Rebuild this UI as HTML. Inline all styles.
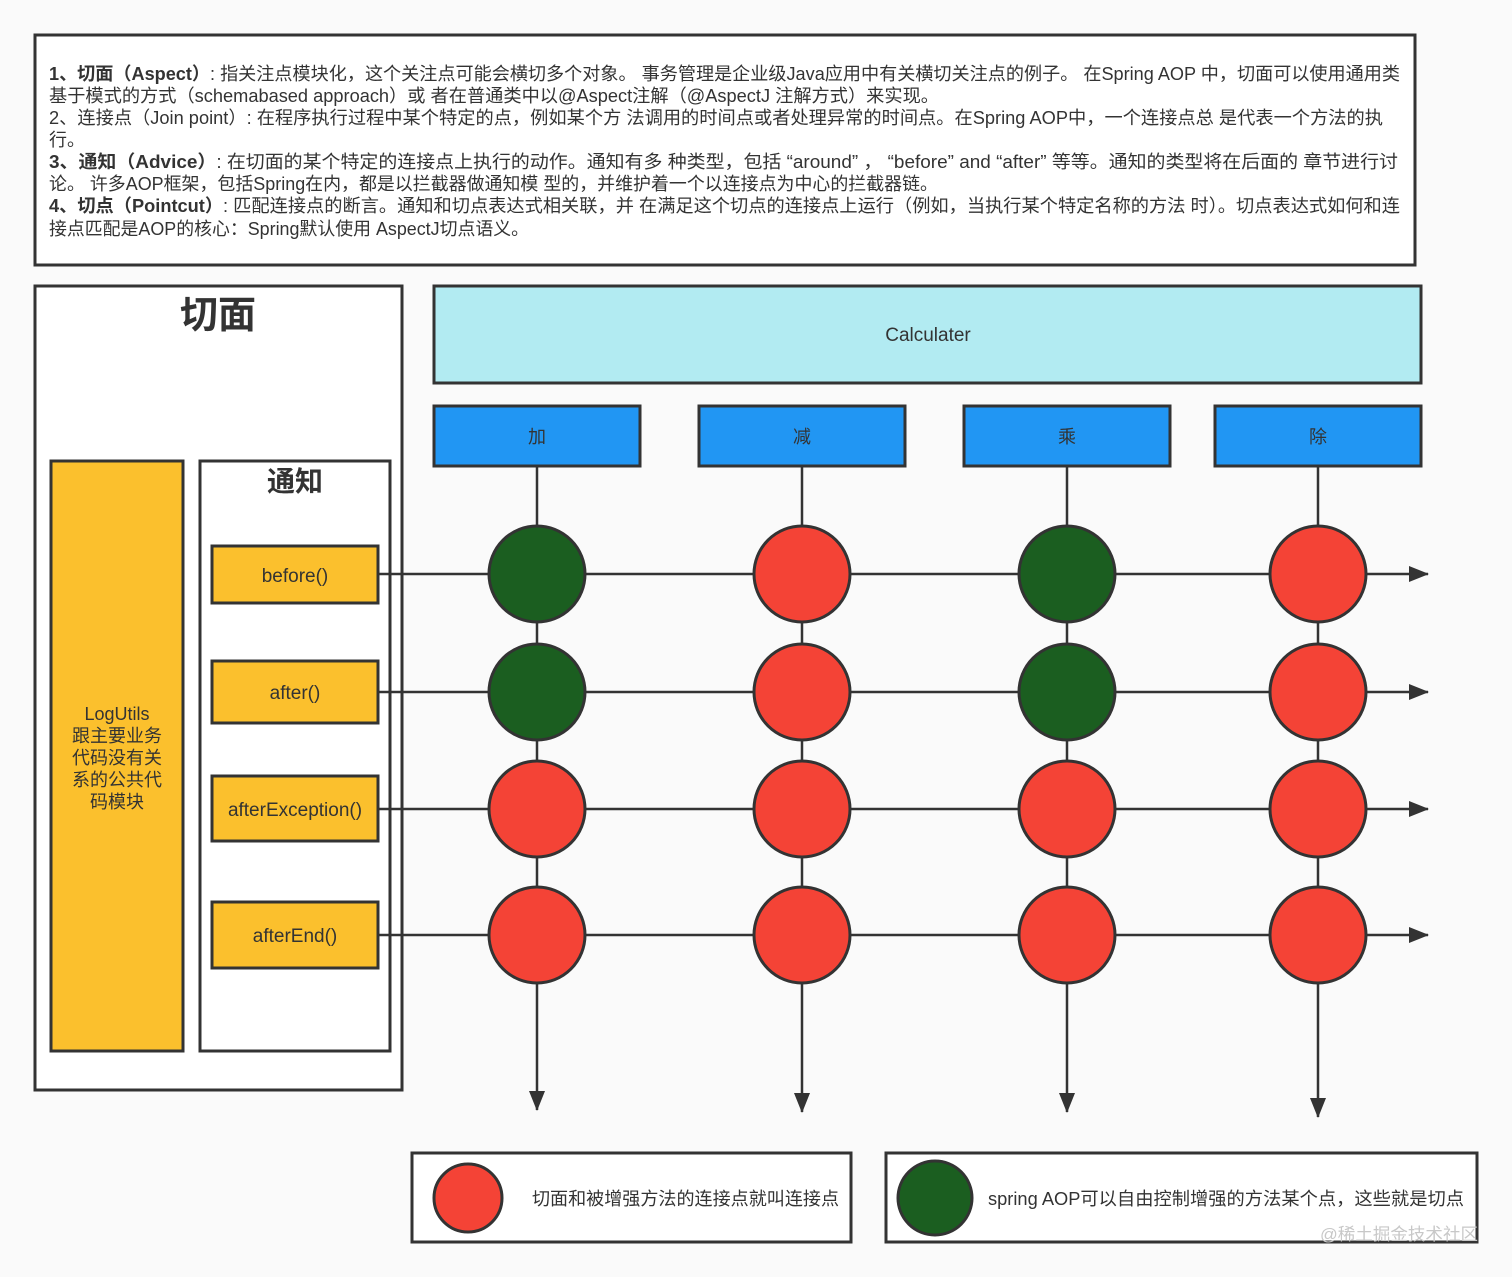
<!DOCTYPE html>
<html><head><meta charset="utf-8"><style>
html,body{margin:0;padding:0;background:#fafafa;}
svg{display:block;}
text{font-family:"Liberation Sans","Noto Sans CJK SC",sans-serif;fill:#333;}
</style></head><body>
<svg width="1512" height="1277" viewBox="0 0 1512 1277" xmlns="http://www.w3.org/2000/svg">
<defs>
<marker id="ar" markerWidth="20" markerHeight="16" refX="19" refY="8" orient="auto" markerUnits="userSpaceOnUse" viewBox="0 0 20 16">
<path d="M0,0 L20,8 L0,16 z" fill="#333"/></marker>
</defs>
<rect x="35" y="35" width="1380" height="230" fill="#fff" stroke="#333" stroke-width="3"/>
<g font-size="18">
<text x="49" y="80" textLength="1351" lengthAdjust="spacingAndGlyphs"><tspan font-weight="bold">1、切面（Aspect）</tspan>: 指关注点模块化，这个关注点可能会横切多个对象。 事务管理是企业级Java应用中有关横切关注点的例子。 在Spring AOP 中，切面可以使用通用类</text>
<text x="49" y="102" textLength="890" lengthAdjust="spacingAndGlyphs">基于模式的方式（schemabased approach）或 者在普通类中以@Aspect注解（@AspectJ 注解方式）来实现。</text>
<text x="49" y="124" textLength="1334" lengthAdjust="spacingAndGlyphs">2、连接点（Join point）: 在程序执行过程中某个特定的点，例如某个方 法调用的时间点或者处理异常的时间点。在Spring AOP中，一个连接点总 是代表一个方法的执</text>
<text x="49" y="146">行。</text>
<text x="49" y="168" textLength="1349" lengthAdjust="spacingAndGlyphs"><tspan font-weight="bold">3、通知（Advice）</tspan>: 在切面的某个特定的连接点上执行的动作。通知有多 种类型，包括 “around” ， “before”  and  “after” 等等。通知的类型将在后面的 章节进行讨</text>
<text x="49" y="190" textLength="889" lengthAdjust="spacingAndGlyphs">论。 许多AOP框架，包括Spring在内，都是以拦截器做通知模 型的，并维护着一个以连接点为中心的拦截器链。</text>
<text x="49" y="212" textLength="1351" lengthAdjust="spacingAndGlyphs"><tspan font-weight="bold">4、切点（Pointcut）</tspan>: 匹配连接点的断言。通知和切点表达式相关联，并 在满足这个切点的连接点上运行（例如，当执行某个特定名称的方法 时）。切点表达式如何和连</text>
<text x="49" y="235" textLength="480" lengthAdjust="spacingAndGlyphs">接点匹配是AOP的核心：Spring默认使用 AspectJ切点语义。</text>
</g>
<rect x="35" y="286" width="367" height="804" fill="#fff" stroke="#333" stroke-width="3"/>
<text x="218" y="328" font-size="38" font-weight="bold" text-anchor="middle">切面</text>
<rect x="51" y="461" width="132" height="590" fill="#fbc02d" stroke="#333" stroke-width="3"/>
<g font-size="18" text-anchor="middle">
<text x="117" y="720">LogUtils</text>
<text x="117" y="742">跟主要业务</text>
<text x="117" y="764">代码没有关</text>
<text x="117" y="786">系的公共代</text>
<text x="117" y="808">码模块</text>
</g>
<rect x="200" y="461" width="190" height="590" fill="#fff" stroke="#333" stroke-width="3"/>
<text x="295" y="491" font-size="28" font-weight="bold" text-anchor="middle">通知</text>
<g stroke="#333" stroke-width="3" fill="#fbc02d">
<rect x="212" y="546" width="166" height="57"/>
<rect x="212" y="661" width="166" height="62"/>
<rect x="212" y="776" width="166" height="65"/>
<rect x="212" y="902" width="166" height="66"/>
</g>
<g font-size="19" text-anchor="middle">
<text x="295" y="582">before()</text>
<text x="295" y="699">after()</text>
<text x="295" y="816">afterException()</text>
<text x="295" y="942">afterEnd()</text>
</g>
<rect x="434" y="286" width="987" height="97" fill="#b2ebf2" stroke="#333" stroke-width="3"/>
<text x="928" y="341" font-size="19" text-anchor="middle">Calculater</text>
<g fill="#2196f3" stroke="#333" stroke-width="3">
<rect x="434" y="406" width="206" height="60"/>
<rect x="699" y="406" width="206" height="60"/>
<rect x="964" y="406" width="206" height="60"/>
<rect x="1215" y="406" width="206" height="60"/>
</g>
<g font-size="18" text-anchor="middle">
<text x="537" y="443">加</text><text x="802" y="443">减</text><text x="1067" y="443">乘</text><text x="1318" y="443">除</text>
</g>
<g stroke="#333" stroke-width="2.5" fill="none">
<line x1="378" y1="574" x2="1428" y2="574" marker-end="url(#ar)"/>
<line x1="378" y1="692" x2="1428" y2="692" marker-end="url(#ar)"/>
<line x1="378" y1="809" x2="1428" y2="809" marker-end="url(#ar)"/>
<line x1="378" y1="935" x2="1428" y2="935" marker-end="url(#ar)"/>
<line x1="537" y1="466" x2="537" y2="1110" marker-end="url(#ar)"/>
<line x1="802" y1="466" x2="802" y2="1112" marker-end="url(#ar)"/>
<line x1="1067" y1="466" x2="1067" y2="1112" marker-end="url(#ar)"/>
<line x1="1318" y1="466" x2="1318" y2="1117" marker-end="url(#ar)"/>
</g>
<g stroke="#333" stroke-width="3">
<circle cx="537" cy="574" r="48" fill="#1b5e20"/>
<circle cx="802" cy="574" r="48" fill="#f44336"/>
<circle cx="1067" cy="574" r="48" fill="#1b5e20"/>
<circle cx="1318" cy="574" r="48" fill="#f44336"/>
<circle cx="537" cy="692" r="48" fill="#1b5e20"/>
<circle cx="802" cy="692" r="48" fill="#f44336"/>
<circle cx="1067" cy="692" r="48" fill="#1b5e20"/>
<circle cx="1318" cy="692" r="48" fill="#f44336"/>
<circle cx="537" cy="809" r="48" fill="#f44336"/>
<circle cx="802" cy="809" r="48" fill="#f44336"/>
<circle cx="1067" cy="809" r="48" fill="#f44336"/>
<circle cx="1318" cy="809" r="48" fill="#f44336"/>
<circle cx="537" cy="935" r="48" fill="#f44336"/>
<circle cx="802" cy="935" r="48" fill="#f44336"/>
<circle cx="1067" cy="935" r="48" fill="#f44336"/>
<circle cx="1318" cy="935" r="48" fill="#f44336"/>
</g>
<rect x="412" y="1153" width="439" height="89" fill="#fff" stroke="#333" stroke-width="3"/>
<circle cx="468" cy="1198" r="34" fill="#f44336" stroke="#333" stroke-width="3"/>
<text x="532" y="1205" font-size="18" textLength="307" lengthAdjust="spacingAndGlyphs">切面和被增强方法的连接点就叫连接点</text>
<rect x="886" y="1153" width="591" height="89" fill="#fff" stroke="#333" stroke-width="3"/>
<circle cx="935" cy="1198" r="37" fill="#1b5e20" stroke="#333" stroke-width="3"/>
<text x="988" y="1205" font-size="18" textLength="476" lengthAdjust="spacingAndGlyphs">spring AOP可以自由控制增强的方法某个点，这些就是切点</text>
<text x="1320" y="1240" font-size="17" style="fill:#c8c8c8" textLength="158" lengthAdjust="spacingAndGlyphs">@稀土掘金技术社区</text>
</svg>
</body></html>
